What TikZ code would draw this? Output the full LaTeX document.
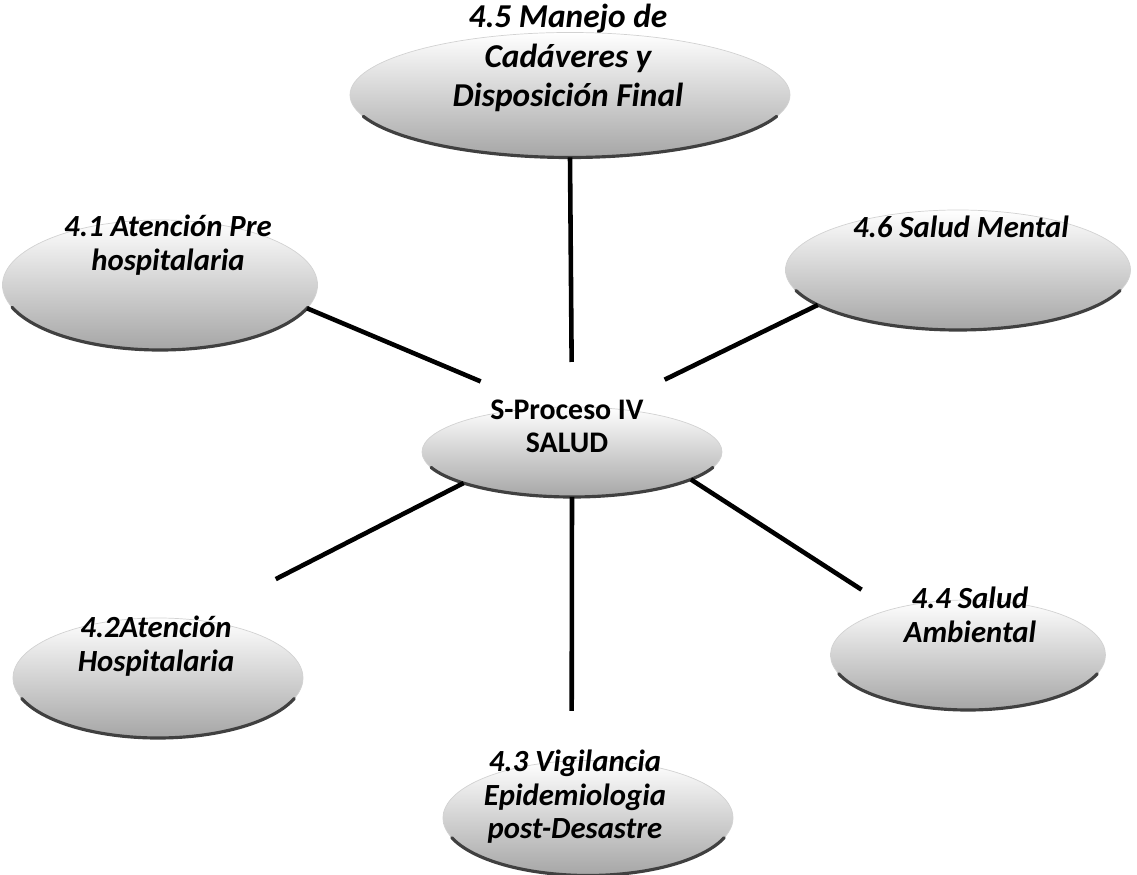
\documentclass[tikz,border=0pt]{standalone}
\usepackage{fontspec}
\setmainfont{Carlito}
\usetikzlibrary{shapes.geometric}

\begin{document}
\begin{tikzpicture}[
	bowl/.style = {ellipse, draw=gray!35, thin, inner sep=0pt, outer sep=0pt, top color=white, bottom color=gray!70},
	rim/.style = {line width=1.8pt, black!75, line cap=round},
	lbl/.style = {align=center, font=\fontsize{17.5}{19}\selectfont\bfseries\itshape},
	line/.style = {line width=2.6pt}
	]
	\useasboundingbox (0,0) rectangle (22.74,17.5);

	\node[bowl, minimum width=6.0cm, minimum height=1.8cm] (hub) at (11.44,8.46) {};
	\node[bowl, minimum width=8.8cm, minimum height=2.5cm] (n45) at (11.4,15.6) {};
	\node[bowl, minimum width=6.3cm, minimum height=2.6cm] (n41) at (3.2,11.8) {};
	\node[bowl, minimum width=6.9cm, minimum height=2.4cm] (n46) at (19.16,12.1) {};
	\node[bowl, minimum width=5.8cm, minimum height=2.4cm] (n42) at (3.16,3.94) {};
	\node[bowl, minimum width=5.8cm, minimum height=2.3cm] (n43) at (11.76,1.14) {};
	\node[bowl, minimum width=5.5cm, minimum height=2.2cm] (n44) at (19.36,4.4) {};

	\draw[rim] ([shift={(200:3.0 and 0.9)}]hub.center) arc[start angle=200, end angle=340, x radius=3.0, y radius=0.9];
	\draw[rim] ([shift={(200:4.4 and 1.25)}]n45.center) arc[start angle=200, end angle=340, x radius=4.4, y radius=1.25];
	\draw[rim] ([shift={(200:3.15 and 1.3)}]n41.center) arc[start angle=200, end angle=340, x radius=3.15, y radius=1.3];
	\draw[rim] ([shift={(200:3.45 and 1.2)}]n46.center) arc[start angle=200, end angle=340, x radius=3.45, y radius=1.2];
	\draw[rim] ([shift={(200:2.9 and 1.2)}]n42.center) arc[start angle=200, end angle=340, x radius=2.9, y radius=1.2];
	\draw[rim] ([shift={(200:2.9 and 1.15)}]n43.center) arc[start angle=200, end angle=340, x radius=2.9, y radius=1.15];
	\draw[rim] ([shift={(200:2.75 and 1.1)}]n44.center) arc[start angle=200, end angle=340, x radius=2.75, y radius=1.1];

	\node[lbl, font=\fontsize{17}{19}\selectfont\bfseries] (thub) at (11.34,8.97) {S-Proceso IV\\SALUD};
	\node[lbl, font=\fontsize{19}{22.7}\selectfont\bfseries\itshape] (t45) at (11.36,16.34) {4.5 Manejo de\\Cadáveres y\\Disposición Final};
	\node[lbl] (t41) at (3.36,12.6) {4.1 Atención Pre\\hospitalaria};
	\node[lbl] (t46) at (19.22,12.96) {4.6 Salud Mental};
	\node[lbl] (t42) at (3.12,4.58) {4.2Atención\\Hospitalaria};
	\node[lbl] (t43) at (11.5,1.56) {4.3 Vigilancia\\Epidemiologia\\post-Desastre};
	\node[lbl] (t44) at (19.4,5.2) {4.4 Salud\\Ambiental};

	\draw[line, shorten <=0.9cm] (hub.90) -- (n45.270);
	\draw[line, shorten <=1.36cm] (hub.123) -- (n41.-9);
	\draw[line, shorten <=1.3cm] (hub.52) -- (n46.194);
	\draw[line, shorten >=1.8cm] (hub.196) -- (n42.57);
	\draw[line, shorten >=1.0cm] (hub.270) -- (n43.106);
	\draw[line, shorten >=0.72cm] (hub.-13) -- (n44.149);
\end{tikzpicture}
\end{document}
